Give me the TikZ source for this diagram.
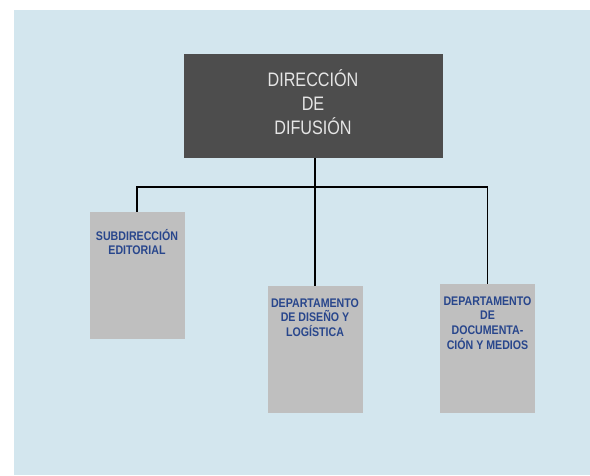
\documentclass[tikz,border=0pt]{standalone}
\usepackage{fontspec}
\newfontfamily\chartfont[FakeStretch=0.83]{Liberation Sans}
\newfontfamily\unitfont[FakeStretch=0.85]{Liberation Sans}
\usepackage{tikz}
\usetikzlibrary{positioning}
\definecolor{panelblue}{RGB}{211,230,238}
\definecolor{headgray}{RGB}{77,77,77}
\definecolor{unitgray}{RGB}{191,191,191}
\definecolor{unitblue}{RGB}{40,70,140}
\tikzset{
  headbox/.style={
    rectangle,
    fill=headgray,
    minimum width=259pt,
    minimum height=104pt,
    inner sep=0pt
  },
  unitbox/.style={
    rectangle,
    fill=unitgray,
    minimum width=95pt,
    minimum height=127pt,
    inner sep=0pt
  },
  headtext/.style={
    align=center,
    inner sep=0pt,
    text=white!90!black,
    font=\chartfont\fontsize{19.5}{23.7}\selectfont
  },
  unittext/.style={
    align=center,
    inner sep=0pt,
    text=unitblue,
    font=\unitfont\bfseries\fontsize{12.5}{14.7}\selectfont
  },
  link/.style={
    draw=black,
    line width=1.8pt
  }
}

\begin{document}
\begin{tikzpicture}[x=1pt, y=-1pt]
  % Page frame in pixels, y going down
  \useasboundingbox (0,0) rectangle (590,475);
  \fill[panelblue] (14,10) rectangle (590,475);

  % Head of the chart
  \node[headbox] (dir) at (313,106) {};
  \node[headtext, below=16pt of dir.north] (dirtxt) {DIRECCIÓN\\DE\\DIFUSIÓN};

  % Units below, text set at the top of each box
  \node[unitbox] (sub) at (137,275.5) {};
  \node[unitbox] (dis) at (315,349.5) {};
  \node[unitbox, minimum height=129pt] (doc) at (487.5,348.5) {};
  \node[unittext, below=17pt of sub.north] (subtxt) {SUBDIRECCIÓN\\EDITORIAL};
  \node[unittext, below=12.5pt of dis.north] (distxt) {DEPARTAMENTO\\DE DISEÑO Y\\LOGÍSTICA};
  \node[unittext, below=12.5pt of doc.north] (doctxt) {DEPARTAMENTO\\DE\\DOCUMENTA-\\CIÓN Y MEDIOS};

  % Connectors through one bus line
  \coordinate (bus) at (315,187);
  \draw[link] (dir.south -| bus) -- (bus);
  \draw[link] (bus) -| (sub.north);
  \draw[link] (bus) -- (dis.north);
  \draw[link] (bus) -| (doc.north);
\end{tikzpicture}
\end{document}
